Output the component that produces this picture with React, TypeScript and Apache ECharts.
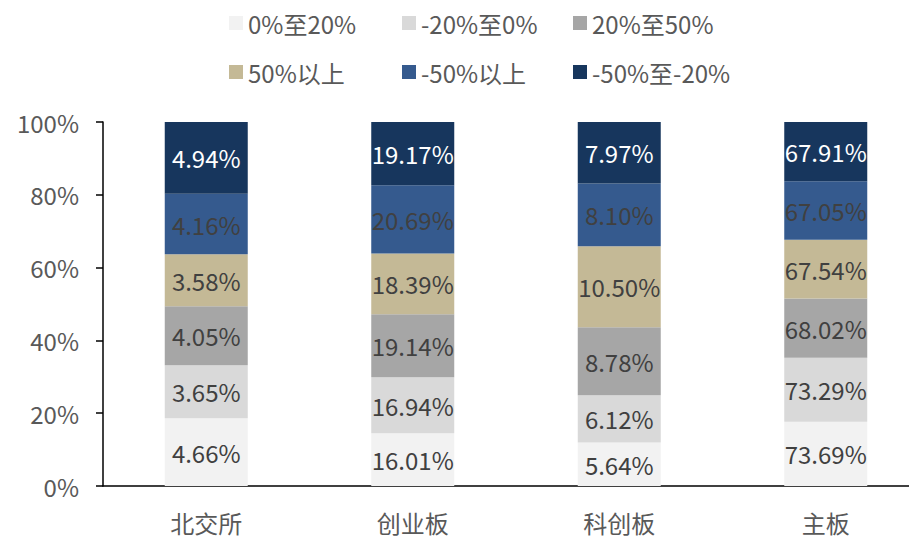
import React, { useEffect, useRef } from "react";
import * as echarts from "echarts";

const categories = ["北交所", "创业板", "科创板", "主板"];
const seriesNames = ["0%至20%", "-20%至0%", "20%至50%", "50%以上", "-50%以上", "-50%至-20%"];
// raw values per series (bottom to top), one entry per category
const s0to20 = [4.66, 16.01, 5.64, 73.69];
const sNeg20to0 = [3.65, 16.94, 6.12, 73.29];
const s20to50 = [4.05, 19.14, 8.78, 68.02];
const s50up = [3.58, 18.39, 10.5, 67.54];
const sNeg50up = [4.16, 20.69, 8.1, 67.05];
const sNeg50toNeg20 = [4.94, 19.17, 7.97, 67.91];
const yTicks = [0, 20, 40, 60, 80, 100];

const rawSeries = [s0to20, sNeg20to0, s20to50, s50up, sNeg50up, sNeg50toNeg20];
const colors = ["#f2f2f2", "#d9d9d9", "#a6a6a6", "#c4b996", "#355a8e", "#17365d"];
const labelColors = ["#404040", "#404040", "#404040", "#404040", "#404040", "#ffffff"];

const FONT = "'Noto Sans CJK SC', 'Noto Sans', sans-serif";
const FS = 24;

const legendLefts = [229, 402, 573, 229, 402, 573];
const legendTops = [11, 11, 11, 60, 60, 60];

export default function App() {
  const ref = useRef<HTMLDivElement>(null);
  useEffect(() => {
    document.body.style.margin = "0";
    const chart = echarts.init(ref.current!, null, { renderer: "svg" });
    const totals = categories.map((_, i) => rawSeries.reduce((a, s) => a + s[i], 0));
    const series = rawSeries.map((arr, k) => ({
      name: seriesNames[k],
      type: "bar",
      stack: "total",
      barWidth: 83,
      data: arr.map((v, i) => ({ value: (v / totals[i]) * 100, raw: v })),
      itemStyle: { color: colors[k] },
      label: {
        show: true,
        position: "inside",
        color: labelColors[k],
        fontSize: FS,
        fontFamily: FONT,
        formatter: (p: any) => p.data.raw.toFixed(2) + "%",
      },
    }));
    const legends = seriesNames.map((n, k) => ({
      left: legendLefts[k],
      top: legendTops[k],
      orient: "horizontal",
      padding: 0,
      itemWidth: 14,
      itemHeight: 14,
      itemGap: 0,
      icon: "rect",
      textStyle: { color: "#595959", fontSize: FS, fontFamily: FONT },
      data: [n],
    }));
    chart.setOption({
      animation: false,
      legend: legends,
      grid: {
        left: 103,
        width: 826,
        top: 122,
        height: 364,
        containLabel: false,
        outerBoundsMode: "none",
      },
      xAxis: {
        type: "category",
        data: categories,
        axisLine: { lineStyle: { color: "#000", width: 1.5 } },
        axisTick: { show: false },
        axisLabel: { color: "#595959", fontSize: FS, fontFamily: FONT, margin: 24 },
      },
      yAxis: {
        type: "value",
        min: yTicks[0],
        max: yTicks[yTicks.length - 1],
        interval: 20,
        axisLine: { show: true, lineStyle: { color: "#000", width: 1.5 } },
        axisTick: { show: true, inside: false, length: 7, lineStyle: { color: "#000", width: 1.5 } },
        splitLine: { show: false },
        axisLabel: { color: "#595959", fontSize: FS, fontFamily: FONT, margin: 24, formatter: "{value}%" },
      },
      series,
    });
    return () => chart.dispose();
  }, []);
  return <div ref={ref} style={{ width: 909, height: 539 }} />;
}
